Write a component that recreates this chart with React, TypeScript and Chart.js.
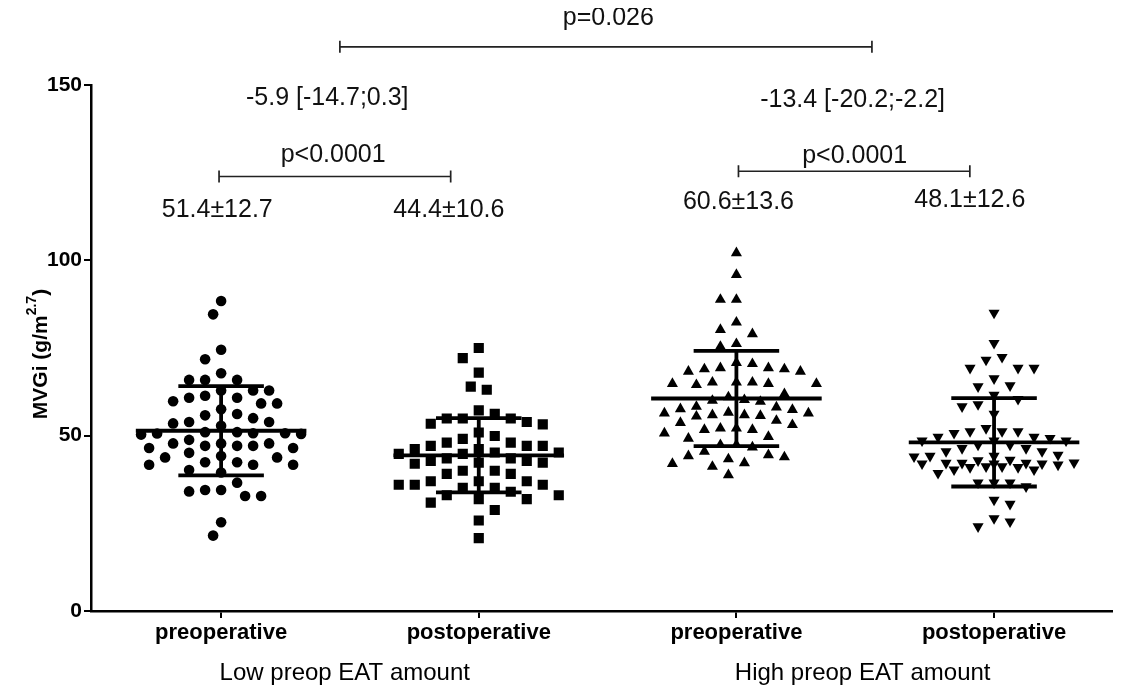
import React, { useEffect, useRef } from "react";
import { Chart, registerables } from "chart.js";

Chart.register(...registerables);

// ---------- data ----------
const categories = ["preoperative", "postoperative", "preoperative", "postoperative"];
const groupLabels = ["Low preop EAT amount", "High preop EAT amount"];
const groupPositions = [1, 2, 3, 4];
const groupLabelPositions = [1.48, 3.49];
const yTickValues = [0, 50, 100, 150];

const lowPre = [
  88.4, 84.6, 74.5, 71.8, 67.8, 65.9, 65.9, 65.9, 62.9, 62.9, 62.9, 61.4, 60.8, 60.8, 59.8,
  59.2, 59.2, 57.5, 56.2, 55.8, 55.0, 53.9, 53.9, 53.5, 52.8, 51.0, 50.7, 50.6, 50.3, 50.5,
  50.7, 51.0, 48.8, 47.8, 47.8, 47.8, 47.1, 47.1, 47.1, 46.5, 46.5, 45.1, 44.2, 43.8, 43.8,
  42.4, 42.4, 41.7, 41.7, 41.7, 40.2, 39.5, 36.6, 34.5, 34.5, 34.1, 32.8, 32.8, 25.3, 21.5,
];
const lowPost = [
  75.0, 72.1, 68.0, 64.0, 63.1, 57.2, 56.2, 54.9, 54.9, 54.9, 53.9, 53.4, 53.2, 50.9, 49.9,
  49.1, 48.0, 48.0, 47.1, 47.1, 47.1, 46.2, 46.2, 45.2, 44.8, 44.8, 45.2, 43.5, 42.8, 42.3,
  42.0, 42.3, 42.8, 43.5, 40.0, 40.0, 39.1, 39.1, 37.0, 37.0, 37.0, 36.0, 36.0, 36.0, 35.1,
  35.1, 33.0, 33.0, 34.0, 31.9, 31.9, 30.9, 28.8, 25.8, 20.8,
];
const highPre = [
  102.1, 95.9, 88.8, 88.8, 82.3, 80.2, 79.0, 76.2, 75.4, 70.5, 70.8, 69.3, 69.0, 68.3, 68.3,
  69.0, 69.3, 65.2, 65.2, 64.8, 64.8, 64.8, 65.2, 64.5, 61.9, 60.2, 59.7, 60.0, 61.0, 58.1,
  57.4, 58.3, 57.6, 56.4, 55.9, 55.7, 54.3, 53.7, 55.5, 55.9, 56.4, 56.6, 52.1, 51.7, 50.7,
  49.2, 49.7, 51.7, 52.1, 53.1, 47.4, 46.7, 47.4, 45.5, 44.5, 43.9, 44.2, 42.0, 43.3, 42.2,
  41.2, 38.8,
];
const highPost = [
  85.0, 76.4, 72.4, 71.6, 69.3, 69.3, 69.3, 66.3, 64.0, 64.3, 61.6, 60.4, 58.9, 58.3, 56.2,
  51.2, 51.2, 50.7, 51.2, 52.1, 49.6, 48.6, 48.6, 47.4, 46.4, 45.5, 45.5, 46.4, 47.4, 48.6,
  49.3, 49.6, 44.2, 44.0, 43.1, 42.2, 42.0, 42.0, 41.7, 41.2, 41.0, 40.3, 40.3, 41.0, 41.2,
  42.0, 42.2, 42.2, 42.3, 42.9, 44.2, 44.5, 39.3, 36.6, 36.6, 36.6, 35.5, 31.7, 30.5, 26.4,
  24.1, 25.5,
];

const means = [51.4, 44.4, 60.6, 48.1];
const sds = [12.7, 10.6, 13.6, 12.6];
const summaryLabels = ["51.4±12.7", "44.4±10.6", "60.6±13.6", "48.1±12.6"];
const withinP = ["p<0.0001", "p<0.0001"];
const diffLabels = ["-5.9 [-14.7;0.3]", "-13.4 [-20.2;-2.2]"];
const betweenP = "p=0.026";

// ---------- layout / style ----------
const FONT = "'Liberation Sans', Arial, Helvetica, sans-serif";
const W = 1111;
const H = 677;
const MEAN_HALF = 0.331;
const SD_HALF = 0.166;

const notes = [
  { text: betweenP, x: 2.503, y: 169.2 },
  { text: diffLabels[0], x: 1.412, y: 146.4 },
  { text: diffLabels[1], x: 3.451, y: 145.8 },
  { text: withinP[0], x: 1.435, y: 130.1 },
  { text: withinP[1], x: 3.459, y: 129.6 },
  { text: summaryLabels[0], x: 0.985, y: 114.4 },
  { text: summaryLabels[1], x: 1.884, y: 114.4 },
  { text: summaryLabels[2], x: 3.008, y: 116.7 },
  { text: summaryLabels[3], x: 3.906, y: 117.3 },
];
const brackets = [
  { x1: 1.461, x2: 3.526, y: 160.9 },
  { x1: 0.992, x2: 1.891, y: 123.9 },
  { x1: 3.008, x2: 3.906, y: 125.4 },
];

const groups = [lowPre, lowPost, highPre, highPost];
const markerStyles: any[] = [
  { pointStyle: "circle", radius: 5.3, rotation: 0 },
  { pointStyle: "rect", radius: 7.2, rotation: 0 },
  { pointStyle: "triangle", radius: 6.4, rotation: 0 },
  { pointStyle: "triangle", radius: 6.4, rotation: 180 },
];

// greedy beeswarm: returns horizontal pixel offsets for points at given pixel heights
function swarm(ysPx: number[], step: number, dists: number[], maxHalf: number): number[] {
  const order = ysPx.map((_, i) => i).sort((a, b) => ysPx[a] - ysPx[b]);
  const placed: { x: number; y: number }[] = [];
  const out = new Array(ysPx.length).fill(0);
  const tryPlace = (y: number, sign: number, d: number) => {
    for (let k = 0; k < 400; k++) {
      const off = k === 0 ? 0 : (k % 2 === 1 ? sign : -sign) * Math.ceil(k / 2) * step;
      if (Math.abs(off) > maxHalf) return null;
      if (placed.every((p) => Math.hypot(p.x - off, p.y - y) >= d)) return off;
    }
    return null;
  };
  order.forEach((i, n) => {
    const y = ysPx[i];
    const sign = n % 2 === 0 ? 1 : -1;
    let off: number | null = null;
    for (const d of dists) {
      off = tryPlace(y, sign, d);
      if (off !== null) break;
    }
    if (off === null) off = 0;
    out[i] = off;
    placed.push({ x: off, y });
  });
  return out;
}

const annotationPlugin = {
  id: "annotations",
  afterDraw(chart: any) {
    const { ctx, scales, chartArea } = chart;
    const xs = scales.x;
    const ys = scales.y;
    ctx.save();
    ctx.fillStyle = "#111";
    ctx.strokeStyle = "#222";
    ctx.textAlign = "center";
    ctx.textBaseline = "middle";
    ctx.font = `25px ${FONT}`;
    notes.forEach((n) => {
      ctx.fillText(n.text, xs.getPixelForValue(n.x), ys.getPixelForValue(n.y));
    });
    ctx.lineWidth = 1.7;
    brackets.forEach((b) => {
      const x1 = xs.getPixelForValue(b.x1);
      const x2 = xs.getPixelForValue(b.x2);
      const y = ys.getPixelForValue(b.y);
      ctx.beginPath();
      ctx.moveTo(x1, y);
      ctx.lineTo(x2, y);
      ctx.moveTo(x1, y - 6);
      ctx.lineTo(x1, y + 6);
      ctx.moveTo(x2, y - 6);
      ctx.lineTo(x2, y + 6);
      ctx.stroke();
    });
    // group labels under the axis
    ctx.fillStyle = "#000";
    ctx.font = `24px ${FONT}`;
    groupLabels.forEach((g, i) => {
      ctx.fillText(g, xs.getPixelForValue(groupLabelPositions[i]), chartArea.bottom + 62);
    });
    // y axis title with superscript
    const cx = 33;
    const cy = 346;
    ctx.translate(cx, cy);
    ctx.rotate(-Math.PI / 2);
    const mainFont = `bold 21px ${FONT}`;
    const supFont = `bold 14px ${FONT}`;
    const p1 = "MVGi (g/m";
    const p2 = "2.7";
    const p3 = ")";
    ctx.font = mainFont;
    const w1 = ctx.measureText(p1).width;
    const w3 = ctx.measureText(p3).width;
    ctx.font = supFont;
    const w2 = ctx.measureText(p2).width;
    let x = -(w1 + w2 + w3) / 2;
    ctx.textAlign = "left";
    ctx.font = mainFont;
    ctx.fillText(p1, x, 0);
    x += w1;
    ctx.font = supFont;
    ctx.fillText(p2, x, -9);
    x += w2;
    ctx.font = mainFont;
    ctx.fillText(p3, x, 0);
    ctx.restore();
  },
};

export default function App() {
  const canvasRef = useRef<HTMLCanvasElement | null>(null);

  useEffect(() => {
    if (!canvasRef.current) return;
    Chart.defaults.font.family = FONT;
    Chart.defaults.color = "#000";

    const pointSets = groups.map((vals, g) => ({
      type: "scatter" as const,
      label: categories[g],
      data: vals.map((v) => ({ x: groupPositions[g], y: v })),
      pointStyle: markerStyles[g].pointStyle,
      pointRadius: markerStyles[g].radius,
      pointRotation: markerStyles[g].rotation,
      backgroundColor: "#000",
      borderColor: "#000",
      borderWidth: 0,
      order: 2,
    }));

    const barSets: any[] = [];
    groups.forEach((_, g) => {
      const c = groupPositions[g];
      const m = means[g];
      const s = sds[g];
      const segs = [
        [{ x: c - MEAN_HALF, y: m }, { x: c + MEAN_HALF, y: m }],
        [{ x: c - SD_HALF, y: m + s }, { x: c + SD_HALF, y: m + s }],
        [{ x: c - SD_HALF, y: m - s }, { x: c + SD_HALF, y: m - s }],
        [{ x: c, y: m + s }, { x: c, y: m - s }],
      ];
      segs.forEach((seg) =>
        barSets.push({
          type: "scatter" as const,
          data: seg,
          showLine: true,
          borderColor: "#000",
          borderWidth: 3.8,
          pointRadius: 0,
          order: 1,
        })
      );
    });

    const chart = new Chart(canvasRef.current, {
      type: "scatter",
      data: { datasets: [...barSets, ...pointSets] },
      options: {
        animation: false,
        responsive: false,
        devicePixelRatio: 1,
        layout: { padding: { top: 77, right: 0, left: 0, bottom: 0 } },
        plugins: { legend: { display: false }, tooltip: { enabled: false } },
        scales: {
          x: {
            type: "linear",
            min: 0.495,
            max: 4.457,
            afterBuildTicks: (scale: any) => {
              scale.ticks = groupPositions.map((v) => ({ value: v }));
            },
            afterFit: (scale: any) => {
              scale.height = 74;
            },
            ticks: {
              autoSkip: false,
              maxRotation: 0,
              padding: 2,
              font: { size: 22, weight: "bold", family: FONT },
              color: "#000",
              callback: (value: any) => {
                const i = groupPositions.indexOf(Number(value));
                return i >= 0 ? categories[i] : "";
              },
            },
            grid: { display: true, drawOnChartArea: false, drawTicks: true, tickLength: 7, color: "#000", lineWidth: 2 },
            border: { display: true, color: "#000", width: 2.5 },
          },
          y: {
            type: "linear",
            min: 0,
            max: 150,
            afterBuildTicks: (scale: any) => {
              scale.ticks = yTickValues.map((v) => ({ value: v }));
            },
            afterFit: (scale: any) => {
              scale.width = 83;
            },
            ticks: {
              padding: 2,
              font: { size: 21, weight: "bold", family: FONT },
              color: "#000",
            },
            grid: { display: true, drawOnChartArea: false, drawTicks: true, tickLength: 7, color: "#000", lineWidth: 2 },
            border: { display: true, color: "#000", width: 2.5 },
          },
        },
      },
      plugins: [annotationPlugin],
    } as any);

    // beeswarm placement computed through the chart's own scales
    const xs: any = chart.scales.x;
    const ys: any = chart.scales.y;
    groups.forEach((vals, g) => {
      const cx = xs.getPixelForValue(groupPositions[g]);
      const py = vals.map((v) => ys.getPixelForValue(v));
      const offs = swarm(py, 8, [15, 12, 9, 6, 0.1], 84);
      (chart.data.datasets[barSets.length + g] as any).data = vals.map((v, i) => ({
        x: xs.getValueForPixel(cx + offs[i]),
        y: v,
      }));
    });
    chart.update();

    return () => chart.destroy();
  }, []);

  return (
    <div style={{ width: W, height: H }}>
      <canvas ref={canvasRef} width={W} height={H} style={{ display: "block", width: W, height: H }} />
    </div>
  );
}
